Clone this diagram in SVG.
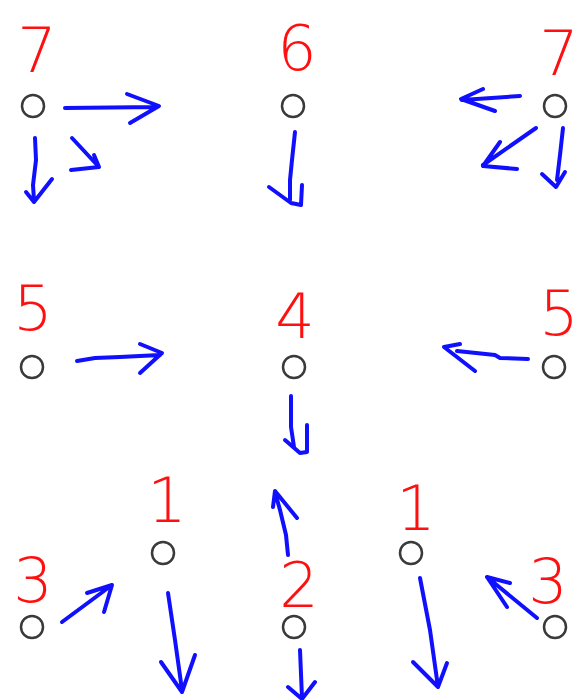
<svg xmlns="http://www.w3.org/2000/svg" width="581" height="700" viewBox="0 0 581 700">
<style>
.n circle{fill:#fff;stroke:#3a3a3a;stroke-width:2.5}
.n text{font-family:"DejaVu Sans","Liberation Sans",sans-serif;font-size:62px;font-weight:300;fill:#ff1010;text-anchor:middle}
.c path{fill:none;stroke:#1010ff;stroke-width:4;stroke-linecap:round;stroke-linejoin:round}
</style>
<rect width="581" height="700" fill="#fff"/>
<g id="n7a" class="n"><circle cx="33" cy="106" r="11"/><text x="37" y="72">7</text></g>
<g id="n6" class="n"><circle cx="293" cy="106" r="11"/><text x="297" y="70">6</text></g>
<g id="n7b" class="n"><circle cx="555" cy="106" r="11"/><text x="559" y="75">7</text></g>
<g id="n5a" class="n"><circle cx="32" cy="367" r="11"/><text x="33" y="330">5</text></g>
<g id="n4" class="n"><circle cx="294" cy="367" r="11"/><text x="295" y="338">4</text></g>
<g id="n5b" class="n"><circle cx="554" cy="367" r="11"/><text x="559" y="335">5</text></g>
<g id="n1a" class="n"><circle cx="163" cy="553" r="11"/><text x="167" y="522">1</text></g>
<g id="n3a" class="n"><circle cx="32" cy="627" r="11"/><text x="33" y="602">3</text></g>
<g id="n2" class="n"><circle cx="294" cy="627" r="11"/><text x="299" y="607">2</text></g>
<g id="n1b" class="n"><circle cx="411" cy="553" r="11"/><text x="416" y="530">1</text></g>
<g id="n3b" class="n"><circle cx="555" cy="627" r="11"/><text x="548" y="603">3</text></g>
<g id="connectors" class="c">
<path d="M65 108 L157 107 M127 94 L159 106 L130 123"/>
<path d="M72 138 L99 167 M94 155 L99 167 L71 170"/>
<path d="M35 138 L36 160 L33 185 L34 200 M26 192 L34 202 L52 179"/>
<path d="M295 132 L292 160 L290 180 L290 200 M269 187 L291 203 L301 205 L302 185"/>
<path d="M520 96 L462 100 M483 89 L461 99 L495 111"/>
<path d="M536 128 L483 165 M500 142 L483 166 L517 169"/>
<path d="M563 128 L560 155 L557 180 M542 174 L556 187 L565 172"/>
<path d="M77 361 L95 358 L120 357 L160 355 M140 344 L162 353 L140 373"/>
<path d="M291 396 L291 427 L294 447 M285 440 L300 453 L307 452 L307 425"/>
<path d="M528 359 L500 358 L495 355 L457 351 M460 344 L444 347 L475 371"/>
<path d="M62 622 L112 585 M87 593 L112 585 L104 612"/>
<path d="M168 593 L175 640 L182 690 M161 662 L182 692 L195 655"/>
<path d="M288 555 L286 535 L280 510 L275 492 M273 507 L275 491 L297 518"/>
<path d="M300 650 L302 698 M288 687 L302 699 L315 682"/>
<path d="M420 578 L430 630 L438 687 M413 662 L438 687 L447 663"/>
<path d="M537 618 L487 577 M487 577 L510 583 M487 577 L507 607"/>
</g>
</svg>
